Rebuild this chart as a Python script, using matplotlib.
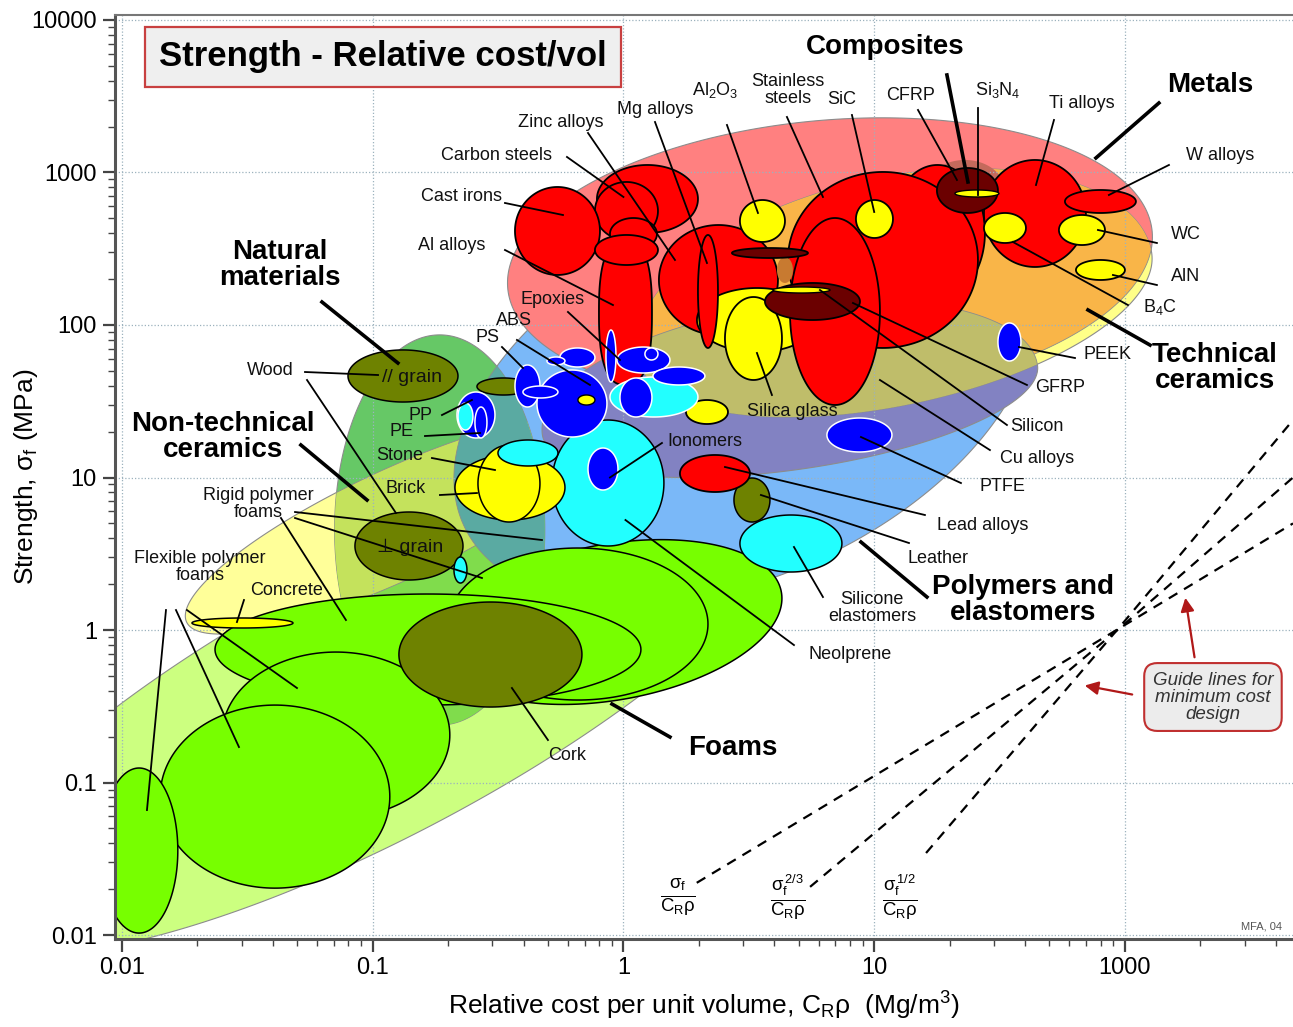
import numpy as np
import matplotlib
matplotlib.use("Agg")
import matplotlib.pyplot as plt
from matplotlib.ticker import LogLocator, NullFormatter

plt.rcParams['font.family'] = ['Liberation Sans', 'DejaVu Sans']
plt.rcParams['mathtext.fontset'] = 'custom'
plt.rcParams['mathtext.rm'] = 'Liberation Sans'
plt.rcParams['mathtext.it'] = 'Liberation Sans:italic'
plt.rcParams['mathtext.bf'] = 'Liberation Sans:bold'
plt.rcParams['mathtext.default'] = 'regular'

# ---- family envelopes: centre (cost, strength), half length / half widths (decades), tilt (deg)
env_names = ['foams', 'nontech', 'polymers', 'natural', 'metals', 'band', 'techcer']
env_cost = [0.107, 0.1227, 3.05, 0.185, 6.662, 4.613, 12.10]
env_str = [0.348, 4.89, 34.7, 4.53, 266.7, 32.22, 135.2]
env_len = [1.914, 0.917, 1.236, 0.419, 1.29, 0.997, 1.045]
env_up = [0.538, 0.219, 0.718, 0.778, 0.558, 0.379, 0.510]
env_dn = [0.538, 0.219, 0.718, 0.778, 0.558, 0.279, 0.399]
env_tilt = [28, 25, 25, 0, 5, 8, 12]

# ---- material bubbles: cost range (lo, hi) and strength range (lo, hi)
foam_big = (0.90, 1.128, 0.686, 0.311, 0.311, 10)
foam_c_lo = [0.1996, 0.0235, 0.0251, 0.0142, 0.0082]
foam_c_hi = [2.173, 1.174, 0.203, 0.117, 0.0167]
foam_s_lo = [0.3475, 0.3223, 0.0585, 0.0203, 0.0103]
foam_s_hi = [3.449, 1.722, 0.717, 0.322, 0.1245]

nat_names = ['Cork', 'Wood //', 'Wood perp', 'Bamboo', 'Leather']
nat_c_lo = [0.1272, 0.0797, 0.08495, 0.2605, 2.759]
nat_c_hi = [0.683, 0.2188, 0.2291, 0.4238, 3.839]
nat_s_lo = [0.3127, 31.26, 2.128, 34.75, 5.107]
nat_s_hi = [1.526, 68.6, 5.94, 44.93, 9.925]

elas_names = ['Neoprene', 'Silicone', 'Foam cell']
elas_c_lo = [0.5187, 2.914, 0.2109]
elas_c_hi = [1.450, 7.435, 0.2376]
elas_s_lo = [3.555, 2.401, 2.033]
elas_s_hi = [23.82, 5.677, 3.011]

nt_names = ['Concrete', 'Brick', 'Stone']
nt_c_lo = [0.01902, 0.2128, 0.2629]
nt_c_hi = [0.04808, 0.5844, 0.4645]
nt_s_lo = [1.031, 5.264, 5.107]
nt_s_hi = [1.199, 14.05, 16.34]
cap_c = (0.3159, 0.548)
cap_s = (11.9, 17.62)

ma_names = ['Zinc', 'Carbon steel', 'Cast iron', 'Mg', 'Al', 'Mg 2', 'Mg 3']
ma_c_lo = [0.7839, 0.7696, 0.3693, 0.8835, 0.7985, 0.7696, 1.385]
ma_c_hi = [1.982, 1.3728, 0.8059, 1.3602, 1.2993, 1.3728, 4.132]
ma_s_lo = [401.2, 360.9, 212.8, 310.3, 40.43, 247.4, 86.0]
ma_s_hi = [1120, 866.5, 803.4, 502.9, 360.9, 389.3, 452.5]

gl_names = ['Glass', 'Silica glass', 'Soda glass']
gl_c_lo = [1.964, 2.540, 1.776]
gl_c_hi = [5.911, 4.287, 2.611]
gl_s_lo = [66.5, 43.59, 22.43]
gl_s_hi = [174.8, 152.6, 32.22]

mb_names = ['Mg 4', 'Ni', 'Stainless', 'Cu', 'Ti', 'W', 'Lead']
mb_c_lo = [1.982, 11.56, 4.529, 4.613, 27.40, 57.64, 1.680]
mb_c_hi = [2.382, 27.65, 25.93, 10.54, 69.89, 110.6, 3.195]
mb_s_lo = [70.7, 145.9, 70.7, 29.88, 240.1, 542.6, 8.034]
mb_s_hi = [389.3, 1120, 1008, 502.9, 1208, 767.7, 14.05]

pback_c = (0.2168, 0.3073)
pback_s = (18.16, 36.37)
pcy_c_lo = [0.2188, 0.8835]
pcy_c_hi = [0.2510, 1.982]
pcy_s_lo = [20.48, 24.93]
pcy_s_hi = [30.79, 45.6]
pb_c_lo = [0.2557, 0.4519, 0.3693, 0.3973, 0.558, 0.4954, 0.942, 1.218, 1.3113,
           0.9683, 0.8516, 0.7221, 6.478, 31.15]
pb_c_hi = [0.2855, 0.8594, 0.4645, 0.548, 0.7696, 0.5844, 1.5326, 1.3728, 2.113,
           1.2993, 0.9334, 0.9508, 11.77, 38.48]
pb_s_lo = [18.16, 18.43, 28.99, 33.21, 53.04, 54.67, 48.44, 58.96, 40.43,
           24.93, 42.29, 8.279, 14.70, 58.06]
pb_s_hi = [28.99, 50.68, 54.67, 39.81, 70.7, 61.7, 71.7, 70.7, 53.04,
           44.93, 92.7, 15.61, 24.55, 103.1]

tc_names = ['Al2O3', 'SiC', 'B4C', 'WC', 'AlN']
tc_c_lo = [2.914, 8.457, 27.40, 54.55, 63.77]
tc_c_hi = [4.407, 11.88, 40.29, 83.24, 100]
tc_s_lo = [350.2, 372, 344.9, 334.5, 197.3]
tc_s_hi = [660, 660, 542.6, 526.3, 266.9]

halo_c = (15.93, 33.22)
halo_s = (473.6, 1208)
wedge_c = (4.095, 4.742)
wedge_s = (188.6, 279.2)
cp_c_lo = [17.79, 2.708, 3.667]
cp_c_hi = [31.15, 5.443, 8.774]
cp_s_lo = [542.6, 275, 107.8]
cp_s_hi = [1070, 319.7, 188.6]

inl_c_lo = [20.99, 3.947, 0.6584]
inl_c_hi = [31.44, 6.662, 0.7696]
inl_s_lo = [690.8, 162.1, 29.88]
inl_s_hi = [767.7, 177.5, 34.75]

# ---- labels
fam_text = ['Composites', 'Metals', 'Natural\nmaterials', 'Non-technical\nceramics',
            'Technical\nceramics', 'Polymers and\nelastomers', 'Foams']
fam_cost = [11.04, 218.3, 0.04267, 0.02528, 228.6, 39.2, 2.733]
fam_str = [6653, 3749, 247.4, 18.43, 52.24, 1.573, 0.1683]

lab_text = ['Zinc alloys', 'Carbon steels', 'Cast irons', 'Al alloys', 'Epoxies', 'ABS', 'PS',
            'Mg alloys', 'Al$_2$O$_3$', 'Stainless\nsteels', 'SiC', 'CFRP', 'Si$_3$N$_4$',
            'Ti alloys', 'W alloys', 'WC', 'AlN', 'B$_4$C', 'PEEK', 'GFRP', 'Silicon',
            'Cu alloys', 'PTFE', 'Lead alloys', 'Leather', 'Silicone\nelastomers', 'Neolprene',
            'Ionomers', 'Silica glass', 'Cork', 'Wood', '// grain', 'PP', 'PE', 'Stone', 'Brick',
            'Rigid polymer\nfoams', '\u22a5 grain', 'Flexible polymer\nfoams', 'Concrete']
lab_cost = [0.5633, 0.313, 0.227, 0.207, 0.5234, 0.3659, 0.2881, 1.336, 2.317, 4.529, 7.435,
            14.01, 31.15, 67.4, 239.2, 175.1, 175.1, 137.9, 85.54, 55.07, 44.58, 44.58, 32.32,
            27.15, 17.96, 9.8, 8.005, 2.113, 4.699, 0.5953, 0.03894, 0.1434, 0.1557, 0.1297,
            0.1285, 0.1358, 0.03486, 0.1408, 0.02047, 0.0455]
lab_str = [2143, 1283, 690.8, 334.5, 145.9, 107.8, 82.2, 2570, 3475, 3475, 2988, 3174, 3475,
           2855, 1302, 395, 206.5, 131.2, 64.5, 38.63, 21.44, 13.42, 8.796, 4.88, 2.966, 1.394,
           0.696, 17.35, 26.89, 0.1515, 50.68, 45.6, 25.69, 19.88, 13.84, 8.534, 6.703, 3.502,
           2.589, 1.829]

lead_c0 = [0.5953, 0.7221, 1.336, 0.3369, 0.3369, 0.6007, 0.376, 0.3277, 2.587, 4.487, 8.152,
           14.95, 25.93, 52.12, 149.8, 134.1, 134.1, 102.8, 63.2, 40.66, 33.83, 28.94, 22.18,
           15.93, 13.76, 6.246, 4.786, 1.424, 3.91, 0.0537, 0.0547, 0.1889, 0.1616, 0.1723,
           0.1854, 0.049, 0.049, 0.04306, 0.01498, 0.01642, 0.01816, 0.03066, 0.3591]
lead_s0 = [1264, 1816, 2143, 631, 310.3, 121.7, 79.8, 71.7, 2049, 2312, 2382, 2570, 2649,
           2210, 1120, 344.9, 182.9, 135.2, 60.75, 40.43, 22.1, 15.14, 9.2, 5.677, 3.72, 1.646,
           0.797, 16.84, 34.75, 49.18, 43.59, 25.69, 18.71, 13.42, 7.678, 5.94, 5.425, 5.425,
           1.352, 1.352, 1.352, 1.573, 0.4166]
lead_c1 = [1.0, 1.605, 2.153, 0.5738, 0.9081, 0.9683, 0.7353, 0.3973, 3.439, 6.246, 10.0,
           21.38, 25.93, 44.18, 86.3, 78.05, 89.57, 35.75, 37.78, 8.228, 6.075, 10.54, 8.855,
           2.540, 3.534, 4.786, 1.0186, 0.8835, 3.407, 0.105, 0.1238, 0.2487, 0.2678, 0.3073,
           0.2604, 0.4731, 0.2727, 0.0782, 0.01258, 0.02928, 0.04988, 0.02874, 0.4999]
lead_s1 = [690.8, 266.9, 255, 526.3, 135.2, 58.96, 40.43, 52.24, 542.6, 690.8, 550.8, 893,
           712, 827.9, 712, 419.8, 212.8, 350.2, 71.7, 139.4, 169.6, 43.59, 18.43, 11.72, 7.678,
           3.502, 5.264, 10, 65.54, 46.99, 5.85, 32.22, 19.58, 11.2, 7.912, 3.892, 2.193, 1.163,
           0.066, 0.1709, 0.4166, 1.128, 0.19]

bold_c0 = [19.5, 136.6, 125.9, 16.23, 0.06275, 0.0517, 1.5326]
bold_s0 = [4358, 2855, 73.9, 1.646, 141.5, 16.34, 0.1988]
bold_c1 = [23.65, 76.6, 71.2, 8.855, 0.126, 0.0949, 0.90]
bold_s1 = [866.5, 1245, 125.5, 3.776, 56.33, 7.118, 0.3271]

guide_cost = [[1.96, 100, 468], [5.55, 100, 468], [16.1, 100, 468]]
guide_str = [[0.022, 1.08, 5.0], [0.0207, 1.1, 10.0], [0.0345, 1.15, 23.8]]
guide_text = [r'$\frac{\sigma_f}{C_R\rho}$', r'$\frac{\sigma_f^{\,2/3}}{C_R\rho}$',
              r'$\frac{\sigma_f^{\,1/2}}{C_R\rho}$']
guide_tx = [1.65, 4.529, 12.67]

# ---- figure
XLIM = (0.00938, 468)
YLIM = (0.00942, 10780)
fig = plt.figure(figsize=(12.93, 10.27), dpi=100)
ax = fig.add_axes([115 / 1293, 88 / 1027, 1178 / 1293, 924 / 1027])
ax.set_xscale('log')
ax.set_yscale('log')
ax.set_xlim(*XLIM)
ax.set_ylim(*YLIM)

W_in, H_in = fig.get_size_inches()
pos = ax.get_position()
K = (pos.height * H_in / np.log10(YLIM[1] / YLIM[0])) / (pos.width * W_in / np.log10(XLIM[1] / XLIM[0]))


def hull(c, s, length, up, down, tilt):
    t = np.linspace(0, 2 * np.pi, 300)
    u = length * np.cos(t)
    v = np.where(np.sin(t) >= 0, up, down) * np.sin(t)
    th = np.radians(tilt)
    dx = u * np.cos(th) - v * np.sin(th)
    dy = u * np.sin(th) + v * np.cos(th)
    return 10 ** (np.log10(c) + dx), 10 ** (np.log10(s) + dy / K)


def oval(xlo, xhi, ylo, yhi, n=2.0):
    t = np.linspace(0, 2 * np.pi, 200)
    c, s = np.cos(t), np.sin(t)
    if n != 2.0:
        c = np.sign(c) * np.abs(c) ** (2 / n)
        s = np.sign(s) * np.abs(s) ** (2 / n)
    a0, a1, b0, b1 = np.log10([xlo, xhi, ylo, yhi])
    return 10 ** ((a0 + a1) / 2 + (a1 - a0) / 2 * c), 10 ** ((b0 + b1) / 2 + (b1 - b0) / 2 * s)


def blobs(clo, chi, slo, shi, fc, ec, lw, z, squares=()):
    for i in range(len(clo)):
        n = 2.6 if i in squares else 2.0
        x, y = oval(clo[i], chi[i], slo[i], shi[i], n)
        ax.fill(x, y, fc=fc, ec=ec, lw=lw, zorder=z + i * 0.01)


# envelopes (overlaps are recoloured with clipped copies)
env_col = {'foams': '#ccff80', 'nontech': '#ffff99', 'polymers': '#7ab8f8', 'natural': '#66c866',
           'metals': '#ff8080', 'band': '#8282c2', 'techcer': '#ffff88'}
env_z = {'foams': 0.10, 'nontech': 0.12, 'polymers': 0.14, 'natural': 0.16,
         'metals': 0.21, 'band': 0.22, 'techcer': 0.24}
shape = {}
for i, nm in enumerate(env_names):
    x, y = hull(env_cost[i], env_str[i], env_len[i], env_up[i], env_dn[i], env_tilt[i])
    p = ax.fill(x, y, fc=env_col[nm], ec='#8c8c8c', lw=0.8, zorder=env_z[nm])[0]
    shape[nm] = (p, x, y)


def overlap(base, other, col, z):
    x, y = shape[other][1], shape[other][2]
    q = ax.fill(x, y, fc=col, ec='#8c8c8c', lw=0.6, zorder=z)[0]
    q.set_clip_path(shape[base][0])


overlap('natural', 'foams', '#80dc4c', 0.17)
overlap('natural', 'nontech', '#c4e25c', 0.18)
overlap('natural', 'polymers', '#5aaaa2', 0.19)
overlap('techcer', 'metals', '#f9b548', 0.25)
overlap('techcer', 'band', '#bfbd6a', 0.26)
hx, hy = oval(halo_c[0], halo_c[1], halo_s[0], halo_s[1])
ax.fill(hx, hy, fc='#c46a5c', ec='none', zorder=0.3)

ax.grid(True, which='major', color='#9cb2be', ls=(0, (1, 1.6)), lw=0.9)
ax.set_axisbelow('line')

# bubbles
GREEN, OLIVE, CYAN, YELLOW, RED, BLUE, DARK = '#77ff00', '#6e8200', '#22ffff', '#ffff00', '#ff0000', '#0000ff', '#6b0000'
gx, gy = hull(*foam_big)
ax.fill(gx, gy, fc=GREEN, ec='black', lw=1.1, zorder=2.9)
blobs(foam_c_lo, foam_c_hi, foam_s_lo, foam_s_hi, GREEN, 'black', 1.1, 3)
blobs(nat_c_lo, nat_c_hi, nat_s_lo, nat_s_hi, OLIVE, 'black', 1.1, 4)
blobs(elas_c_lo, elas_c_hi, elas_s_lo, elas_s_hi, CYAN, 'black', 1.1, 5)
blobs(nt_c_lo, nt_c_hi, nt_s_lo, nt_s_hi, YELLOW, 'black', 1.1, 6)
blobs([cap_c[0]], [cap_c[1]], [cap_s[0]], [cap_s[1]], CYAN, 'black', 1.1, 6.5)
blobs(ma_c_lo, ma_c_hi, ma_s_lo, ma_s_hi, RED, 'black', 1.3, 7, squares=(4,))
blobs(gl_c_lo, gl_c_hi, gl_s_lo, gl_s_hi, YELLOW, 'black', 1.3, 8)
blobs(mb_c_lo, mb_c_hi, mb_s_lo, mb_s_hi, RED, 'black', 1.3, 9)
blobs([pback_c[0]], [pback_c[1]], [pback_s[0]], [pback_s[1]], BLUE, 'white', 1.1, 10)
blobs(pcy_c_lo, pcy_c_hi, pcy_s_lo, pcy_s_hi, CYAN, 'white', 1.1, 10.5)
blobs(pb_c_lo, pb_c_hi, pb_s_lo, pb_s_hi, BLUE, 'white', 1.1, 11)
blobs(tc_c_lo, tc_c_hi, tc_s_lo, tc_s_hi, YELLOW, 'black', 1.3, 12)
blobs([wedge_c[0]], [wedge_c[1]], [wedge_s[0]], [wedge_s[1]], '#c87a30', 'none', 0, 12.8)
blobs(cp_c_lo, cp_c_hi, cp_s_lo, cp_s_hi, DARK, 'black', 1.3, 13)
blobs(inl_c_lo, inl_c_hi, inl_s_lo, inl_s_hi, YELLOW, 'black', 1.0, 14)

# leader lines
for i in range(len(lead_c0)):
    ax.plot([lead_c0[i], lead_c1[i]], [lead_s0[i], lead_s1[i]], color='black', lw=1.3, zorder=20)
for i in range(len(bold_c0)):
    ax.plot([bold_c0[i], bold_c1[i]], [bold_s0[i], bold_s1[i]], color='black', lw=2.6, zorder=20)

for i, t in enumerate(lab_text):
    fs = 14 if 'grain' in t else 13
    ax.text(lab_cost[i], lab_str[i], t, fontsize=fs, ha='center', va='center',
            linespacing=1.0, color='#111111', zorder=21)
for i, t in enumerate(fam_text):
    ax.text(fam_cost[i], fam_str[i], t, fontsize=20, fontweight='bold', ha='center', va='center',
            linespacing=1.0, color='black', zorder=21)

# guide lines
for i in range(3):
    ax.plot(guide_cost[i], guide_str[i], color='black', lw=1.6, ls=(0, (4.5, 3.5)), zorder=19)
    ax.text(guide_tx[i], 0.0175, guide_text[i], fontsize=19, ha='center', va='center', zorder=21)

ax.text(224.4, 0.3637, 'Guide lines for\nminimum cost\ndesign', ha='center', va='center',
        fontsize=13.5, style='italic', color='#333333', linespacing=1.0, zorder=22,
        bbox=dict(boxstyle='round,pad=0.45,rounding_size=0.7', fc='#ececec', ec='#c03030', lw=1.5))
ax.annotate('', xy=(67.4, 0.4359), xytext=(109.6, 0.3748),
            arrowprops=dict(arrowstyle='-|>', color='#b01818', lw=1.6, mutation_scale=20), zorder=22)
ax.annotate('', xy=(173.5, 1.696), xytext=(190.2, 0.6357),
            arrowprops=dict(arrowstyle='-|>', color='#b01818', lw=1.6, mutation_scale=20), zorder=22)

ax.text(0.1099, 5720, 'Strength - Relative cost/vol', fontsize=25, fontweight='bold',
        ha='center', va='center', zorder=22,
        bbox=dict(boxstyle='square,pad=0.4', fc='#efefef', ec='#c84040', lw=1.6))
ax.text(351.9, 0.01146, 'MFA, 04', fontsize=8, color='#555555', ha='center', va='center', zorder=22)

# axes styling
ax.set_xticks([0.01, 0.1, 1, 10, 100])
ax.set_xticklabels(['0.01', '0.1', '1', '10', '1000'])
ax.set_yticks([0.01, 0.1, 1, 10, 100, 1000, 10000])
ax.set_yticklabels(['0.01', '0.1', '1', '10', '100', '1000', '10000'])
ax.xaxis.set_minor_locator(LogLocator(base=10, subs=np.arange(2, 10)))
ax.yaxis.set_minor_locator(LogLocator(base=10, subs=np.arange(2, 10)))
ax.xaxis.set_minor_formatter(NullFormatter())
ax.yaxis.set_minor_formatter(NullFormatter())
ax.tick_params(which='major', length=9, width=1.6, color='#444444', labelsize=17, pad=4)
ax.tick_params(which='minor', length=5, width=1.0, color='#444444')
for s in ['left', 'bottom']:
    ax.spines[s].set_linewidth(2.2)
    ax.spines[s].set_color('#555555')
ax.spines['top'].set_linewidth(1.5)
ax.spines['top'].set_color('#777777')
ax.spines['right'].set_visible(False)
for s in ax.spines.values():
    s.set_zorder(30)

ax.set_xlabel('Relative cost per unit volume, C$_R$\u03c1  (Mg/m$^3$)', fontsize=19, labelpad=8)
ax.set_ylabel('Strength, \u03c3$_f$ (MPa)', fontsize=19)
ax.yaxis.set_label_coords(-0.064, 0.5)

fig.savefig('out.png', dpi=100)
